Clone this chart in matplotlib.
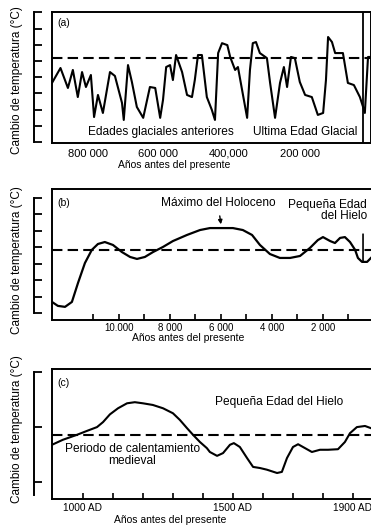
import numpy as np
import matplotlib
matplotlib.use("Agg")
import matplotlib.pyplot as plt

plt.rcParams['font.family'] = ['Liberation Sans', 'DejaVu Sans']

# (a) ultimos ~900 000 años (miles de años antes del presente)
edad_a = [901, 877, 856, 842, 828, 816, 805, 791, 782, 771, 757, 737, 723, 703, 698,
          686, 675, 661, 643, 624, 609, 595, 587, 578, 567, 559, 550, 533, 519, 505,
          497, 488, 477, 463, 449, 440, 431, 420, 405, 397, 383, 375, 349, 341, 333,
          324, 313, 293, 284, 270, 256, 245, 236, 225, 214, 200, 185, 166, 149, 134,
          126, 120, 109, 100, 78, 64, 47, 30, 21, 16, 7, 1]
temp_a = [-1.35, -0.43, -1.66, -0.55, -2.22, -0.68, -1.6, -0.86, -3.45, -2.09, -3.2, -0.68,
          -0.92, -2.58, -3.63, -0.25, -1.29, -2.83, -3.5, -1.6, -1.66, -3.5, -2.4, -0.37,
          -0.25, -1.17, 0.37, -0.68, -2.09, -2.22, -1.17, 0.37, 0.37, -2.22, -3.0, -3.63,
          0.49, 1.1, 0.98, 0.25, -0.55, -0.37, -3.5, -0.55, 1.1, 1.17, 0.49, 0.18, -1.35,
          -3.5, -1.35, -0.37, -1.6, 0.25, 0.18, -1.29, -2.09, -2.22, -3.32, -3.2, -1.17,
          1.48, 1.17, 0.49, 0.49, -1.35, -1.48, -2.22, -2.83, -3.2, 0.25, 0.25]
ref_a = 0.18
ticks_a = [800, 600, 400, 200]
labels_a = ["800 000", "600 000", "400,000", "200 000"]

# (b) ultimos ~12 000 años
edad_b = [12620, 12390, 12110, 11840, 11600, 11330, 11060, 10820, 10550, 10230, 9880,
          9560, 9290, 8980, 8660, 8270, 7880, 7330, 6820, 6430, 6150, 5530, 5140, 4780,
          4470, 4080, 3690, 3290, 2900, 2510, 2200, 2000, 1720, 1530, 1330, 1140, 940,
          740, 630, 470, 270, 120]
temp_b = [-3.33, -3.57, -3.63, -3.33, -2.17, -0.96, -0.16, 0.2, 0.32, 0.14, -0.29,
          -0.59, -0.71, -0.59, -0.29, 0.02, 0.38, 0.75, 1.05, 1.17, 1.17, 1.17, 1.05, 0.75,
          0.14, -0.41, -0.65, -0.65, -0.53, -0.04, 0.44, 0.62, 0.38, 0.26, 0.57, 0.62, 0.32,
          -0.16, -0.65, -0.89, -0.89, -0.65]
ref_b = -0.16
ticks_b = [10000, 8000, 6000, 4000, 2000]
labels_b = ["10.000", "8 000", "6 000", "4 000", "2 000"]

# (c) ultimos ~1000 años
anio_c = [897, 933, 980, 1013, 1047, 1067, 1090, 1117, 1147, 1173, 1200, 1233, 1267,
          1300, 1323, 1347, 1367, 1390, 1413, 1423, 1447, 1467, 1490, 1503, 1523, 1547,
          1567, 1590, 1613, 1647, 1663, 1680, 1700, 1717, 1740, 1763, 1790, 1817, 1850,
          1873, 1890, 1913, 1940, 1960]
temp_c = [-0.32, -0.23, -0.14, -0.07, 0.0, 0.09, 0.23, 0.34, 0.43, 0.45, 0.43, 0.40, 0.34,
          0.25, 0.13, -0.02, -0.14, -0.27, -0.38, -0.45, -0.52, -0.47, -0.32, -0.29, -0.36,
          -0.56, -0.72, -0.74, -0.77, -0.83, -0.81, -0.56, -0.36, -0.31, -0.38, -0.45,
          -0.41, -0.41, -0.40, -0.27, -0.11, 0.0, 0.02, -0.02]
ref_c = -0.14
ticks_c = [1000, 1500, 1900]
labels_c = ["1000 AD", "1500 AD", "1900 AD"]

W, H = 371, 529
fig = plt.figure(figsize=(W / 100, H / 100), dpi=100)

def px_axes(left, top, right, bottom):
    return fig.add_axes([left / W, 1 - bottom / H, (right - left) / W, (bottom - top) / H])

dash = (0, (5, 2.5))
ylab = "Cambio de temperatura (°C)"
xlab = "Años antes del presente"
fs = 8.6   # textos dentro de los paneles

def bracket(ax, loc, ticks, lo, hi):
    sec = ax.secondary_yaxis(loc)
    sec.set_yticks(ticks)
    sec.tick_params(direction='in', length=5.5, width=1.3, labelleft=False)
    sec.spines['left'].set_linewidth(1.4)
    sec.spines['left'].set_bounds(lo, hi)
    return sec

def style_box(ax):
    ax.set_yticks([])
    for s in ax.spines.values():
        s.set_linewidth(1.4)

# ---- (a)
ax = px_axes(52, 12, 370.5, 143)
ax.plot(edad_a, temp_a, color='black', lw=1.5)
ax.axhline(ref_a, color='black', lw=1.5, ls=dash)
ax.axvline(21, color='black', lw=1.3)
ax.set_xlim(901, 0)
ax.set_ylim(-5.05, 3.02)
style_box(ax)
ax.set_xticks(ticks_a)
ax.set_xticklabels(labels_a)
ax.tick_params(axis='x', length=0, pad=4, labelsize=8)
ax.set_xlabel(xlab, fontsize=7.5, labelpad=1)
ax.xaxis.label.set_x(0.383)
bracket(ax, -0.0565, range(-5, 4), -5, 3)
ax.text(0.016, 0.915, "(a)", transform=ax.transAxes, fontsize=7.5, va='center')
ax.text(0.113, 0.084, "Edades glaciales anteriores", transform=ax.transAxes,
        fontsize=fs, va='center')
ax.text(0.631, 0.084, "Ultima Edad Glacial", transform=ax.transAxes,
        fontsize=fs, va='center')
fig.text(17 / W, 1 - 80 / H, ylab, rotation=90, ha='center', va='center', fontsize=8.5)

# ---- (b)
ax = px_axes(52, 189, 380, 320)
ax.plot(edad_b, temp_b, color='black', lw=1.6)
ax.axhline(ref_b, color='black', lw=1.5, ls=dash)
ax.set_xlim(12620, -235)
ax.set_ylim(-4.43, 3.55)
style_box(ax)
ax.set_xticks(ticks_b)
ax.set_xticklabels(labels_b)
ax.set_xticks(range(1000, 12000, 2000), minor=True)
ax.tick_params(axis='x', which='both', direction='in', length=4, width=1.2,
               pad=2, labelsize=7)
ax.set_xlabel(xlab, fontsize=7.5, labelpad=0)
ax.xaxis.label.set_x(0.415)
bracket(ax, -0.055, range(-4, 4), -4, 3)
ax.text(0.015, 0.893, "(b)", transform=ax.transAxes, fontsize=7.5, va='center')
ax.annotate("Máximo del Holoceno", xy=(6000, 1.4), xytext=(0.506, 0.893),
            textcoords='axes fraction', ha='center', va='center', fontsize=fs,
            arrowprops=dict(arrowstyle='-|>', color='black', lw=1, mutation_scale=6,
                            shrinkA=3, shrinkB=0))
ax.text(0.72, 0.878, "Pequeña Edad", transform=ax.transAxes, fontsize=fs, va='center')
ax.text(0.89, 0.794, "del Hielo", transform=ax.transAxes, fontsize=fs,
        va='center', ha='center')
ax.annotate("", xy=(430, -0.85), xytext=(430, 0.8),
            arrowprops=dict(arrowstyle='-', color='black', lw=1.2, shrinkA=0, shrinkB=0))
fig.text(17 / W, 1 - 260 / H, ylab, rotation=90, ha='center', va='center', fontsize=8.5)

# ---- (c)
ax = px_axes(52, 369, 380, 499)
ax.plot(anio_c, temp_c, color='black', lw=1.5)
ax.axhline(ref_c, color='black', lw=1.5, ls=dash)
ax.set_xlim(897, 1990)
ax.set_ylim(-1.3, 1.05)
style_box(ax)
ax.set_xticks(ticks_c)
ax.set_xticklabels(labels_c)
ax.set_xticks([t for t in range(1000, 2000, 100) if t not in ticks_c], minor=True)
ax.tick_params(axis='x', which='both', direction='in', length=4, width=1.2,
               pad=3, labelsize=7.3)
ax.set_xlabel(xlab, fontsize=7.5, labelpad=1)
ax.xaxis.label.set_x(0.36)
bracket(ax, -0.055, [-1, 0, 1], -1.22, 1)
ax.text(0.015, 0.892, "(c)", transform=ax.transAxes, fontsize=7.5, va='center')
ax.text(0.692, 0.746, "Pequeña Edad del Hielo", transform=ax.transAxes,
        fontsize=fs, va='center', ha='center')
ax.text(0.245, 0.338, "Periodo de calentamiento\nmedieval", transform=ax.transAxes,
        fontsize=fs, va='center', ha='center', linespacing=1.05)
fig.text(17 / W, 1 - 429 / H, ylab, rotation=90, ha='center', va='center', fontsize=8.5)

fig.savefig("out.png", dpi=100)
